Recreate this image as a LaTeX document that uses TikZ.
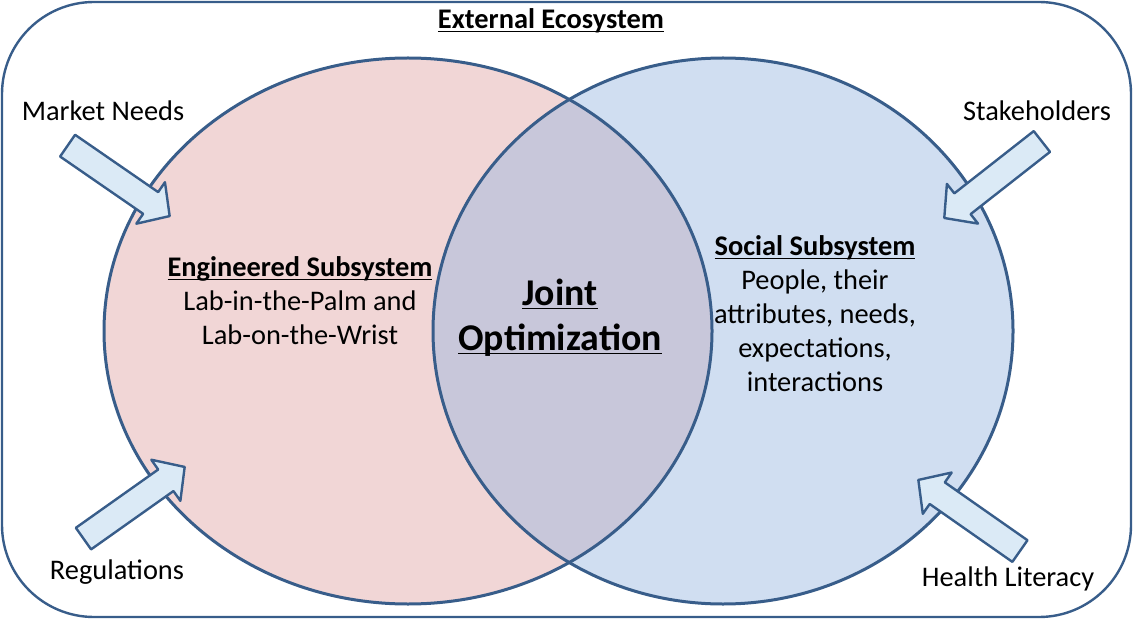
\documentclass[tikz,border=0pt]{standalone}
\usepackage{fontspec}
\setmainfont{Carlito}
\usetikzlibrary{shapes.arrows}

\definecolor{edgeblue}{RGB}{56,93,138}
\definecolor{engfill}{RGB}{241,214,214}
\definecolor{socfill}{RGB}{208,222,241}
\definecolor{jointfill}{RGB}{200,199,218}
\definecolor{arrowfill}{RGB}{219,234,246}
\newcommand{\ulabel}[1]{\underline{\smash{#1}}\vphantom{#1}}

\begin{document}
\begin{tikzpicture}[x=0.5pt, y=-0.5pt, line join=round]
      \tikzstyle{label}=[font=\fontsize{14.2}{17}\selectfont, align=center, inner sep=0pt]
      \tikzstyle{heading}=[label, font=\fontsize{14.2}{17}\selectfont\bfseries]
      \tikzstyle{input arrow}=[single arrow, draw=edgeblue, fill=arrowfill, line width=1.2pt, inner sep=6pt, minimum height=62pt, single arrow head extend=6pt, single arrow tip angle=95]
      \tikzstyle{subsystem}=[draw=edgeblue, line width=1.5pt]

      \useasboundingbox (0,0) rectangle (1134,620);
      \draw[edgeblue, line width=1.2pt, rounded corners=46pt] (2,2) rectangle (1131,617);

      % the two subsystems and their overlap
      \fill[engfill] (408,331) ellipse [x radius=152pt, y radius=136.5pt];
      \fill[socfill] (723,331) ellipse [x radius=145pt, y radius=136.5pt];
      \begin{scope}
        \clip (408,331) ellipse [x radius=152pt, y radius=136.5pt];
        \fill[jointfill] (723,331) ellipse [x radius=145pt, y radius=136.5pt];
      \end{scope}
      \draw[subsystem] (408,331) ellipse [x radius=152pt, y radius=136.5pt];
      \draw[subsystem] (723,331) ellipse [x radius=145pt, y radius=136.5pt];

      % inputs from the ecosystem
      \node[input arrow, rotate=-34.6, anchor=tip] (market arrow) at (171,217) {};
      \node[input arrow, rotate=35.3, anchor=tip] (regulation arrow) at (186,466) {};
      \node[input arrow, rotate=218.1, anchor=tip] (stakeholder arrow) at (943,219) {};
      \node[input arrow, rotate=145, anchor=tip] (literacy arrow) at (917,479) {};

      \node[heading] (ecosystem) at (551,21) {\ulabel{External Ecosystem}};
      \node[label] (market) at (103,111) {Market Needs};
      \node[label] (stakeholders) at (1037,111) {Stakeholders};
      \node[label] (regulations) at (117,572) {Regulations};
      \node[label] (literacy) at (1008,579) {Health Literacy};

      \node[label] (engineered) at (300,301) {\textbf{\ulabel{Engineered Subsystem}}\\Lab-in-the-Palm and\\Lab-on-the-Wrist};
      \node[label] (social) at (815,314) {\textbf{\ulabel{Social Subsystem}}\\People, their\\attributes, needs,\\expectations,\\interactions};
      \node[label, font=\fontsize{18.9}{22.5}\selectfont\bfseries] (joint) at (560,318) {\ulabel{Joint}\\\ulabel{Optimization}};
  \end{tikzpicture}
\end{document}
